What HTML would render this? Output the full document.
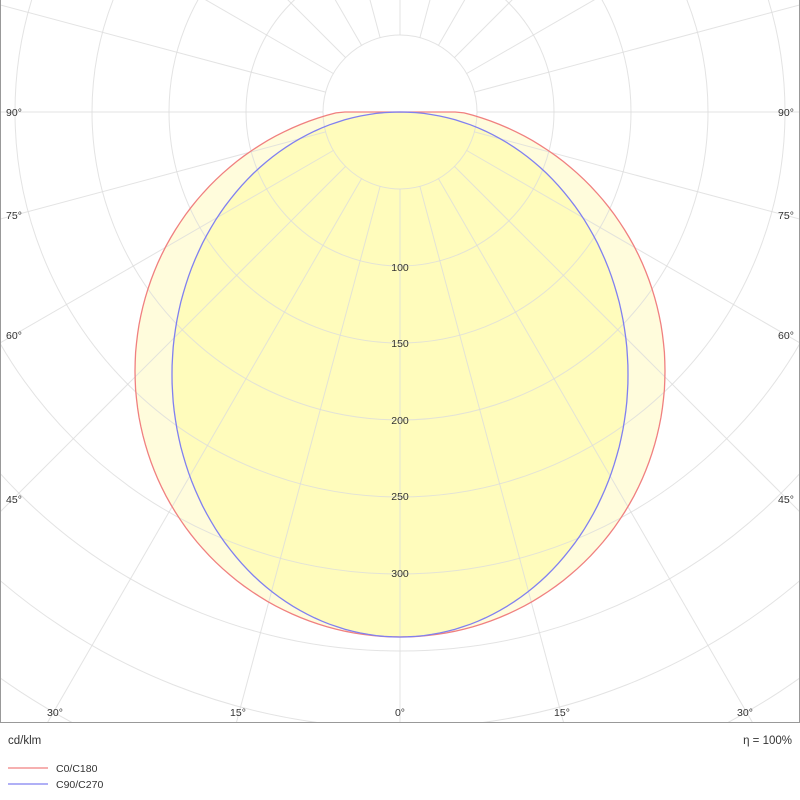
<!DOCTYPE html>
<html><head><meta charset="utf-8"><style>
html,body{margin:0;padding:0;background:#fff;width:800px;height:800px;overflow:hidden;}
svg{display:block;font-family:"Liberation Sans","DejaVu Sans",sans-serif;}
</style></head><body>
<svg id="s" width="800" height="800" viewBox="0 0 800 800" xmlns="http://www.w3.org/2000/svg">
<defs><clipPath id="c"><rect x="0" y="0" width="800" height="722"/></clipPath></defs>
<g clip-path="url(#c)">
<g id="fills"></g>
<g id="grid" stroke="#dcdcdc" stroke-opacity="0.8" stroke-width="1" fill="none"></g>
<g id="curves" fill="none" stroke-width="1.3"></g>
</g>
<line x1="0.5" y1="0" x2="0.5" y2="722" stroke="#999"/>
<line x1="799.5" y1="0" x2="799.5" y2="722" stroke="#999"/>
<line x1="0" y1="722.5" x2="800" y2="722.5" stroke="#999"/>
<g font-size="10.5" fill="#333" text-anchor="middle">
<text x="400" y="271">100</text><text x="400" y="347">150</text><text x="400" y="424">200</text><text x="400" y="500">250</text><text x="400" y="577">300</text>
<text x="14" y="116">90°</text><text x="786" y="116">90°</text>
<text x="14" y="219">75°</text><text x="786" y="219">75°</text>
<text x="14" y="339">60°</text><text x="786" y="339">60°</text>
<text x="14" y="503">45°</text><text x="786" y="503">45°</text>
<text x="55" y="716">30°</text><text x="745" y="716">30°</text>
<text x="238" y="716">15°</text><text x="562" y="716">15°</text>
<text x="400" y="716">0°</text>
</g>
<text x="8" y="744" font-size="11.5" fill="#333">cd/klm</text>
<text x="792" y="744" font-size="11.5" fill="#333" text-anchor="end">η = 100%</text>
<line x1="8" y1="768" x2="48" y2="768" stroke="#f08080" stroke-width="1.3"/>
<line x1="8" y1="784" x2="48" y2="784" stroke="#8080f0" stroke-width="1.3"/>
<text x="56" y="772" font-size="10.5" fill="#333">C0/C180</text>
<text x="56" y="788" font-size="10.5" fill="#333">C90/C270</text>
</svg>
<script>
var NS="http://www.w3.org/2000/svg";
function el(p,t,a){var e=document.createElementNS(NS,t);for(var k in a)e.setAttribute(k,a[k]);document.getElementById(p).appendChild(e);return e;}
var cx=400,cy=112;
function pts(ox,oy,rx,ry,clampY){var s=[];for(var i=0;i<360;i+=2){var a=i*Math.PI/180;var x=ox+rx*Math.sin(a),y=oy-ry*Math.cos(a);if(y<clampY)y=clampY;s.push(x.toFixed(1)+","+y.toFixed(1));}return s.join(" ");}
var red=pts(400,371,265,266,112), blue=pts(400,374.5,228,262.5,112);
el("fills","polygon",{points:red,fill:"#fffcdc"});
el("fills","polygon",{points:blue,fill:"#fffcbc"});
for(var k=1;k<=14;k++)el("grid","circle",{cx:cx,cy:cy,r:77*k});
for(var d=0;d<360;d+=15){var a=d*Math.PI/180;el("grid","line",{x1:(cx+77*Math.sin(a)).toFixed(1),y1:(cy+77*Math.cos(a)).toFixed(1),x2:(cx+1200*Math.sin(a)).toFixed(1),y2:(cy+1200*Math.cos(a)).toFixed(1)});}
el("curves","polygon",{points:red,stroke:"#f08080"});
el("curves","polygon",{points:blue,stroke:"#8080f0"});
</script>
</body></html>
